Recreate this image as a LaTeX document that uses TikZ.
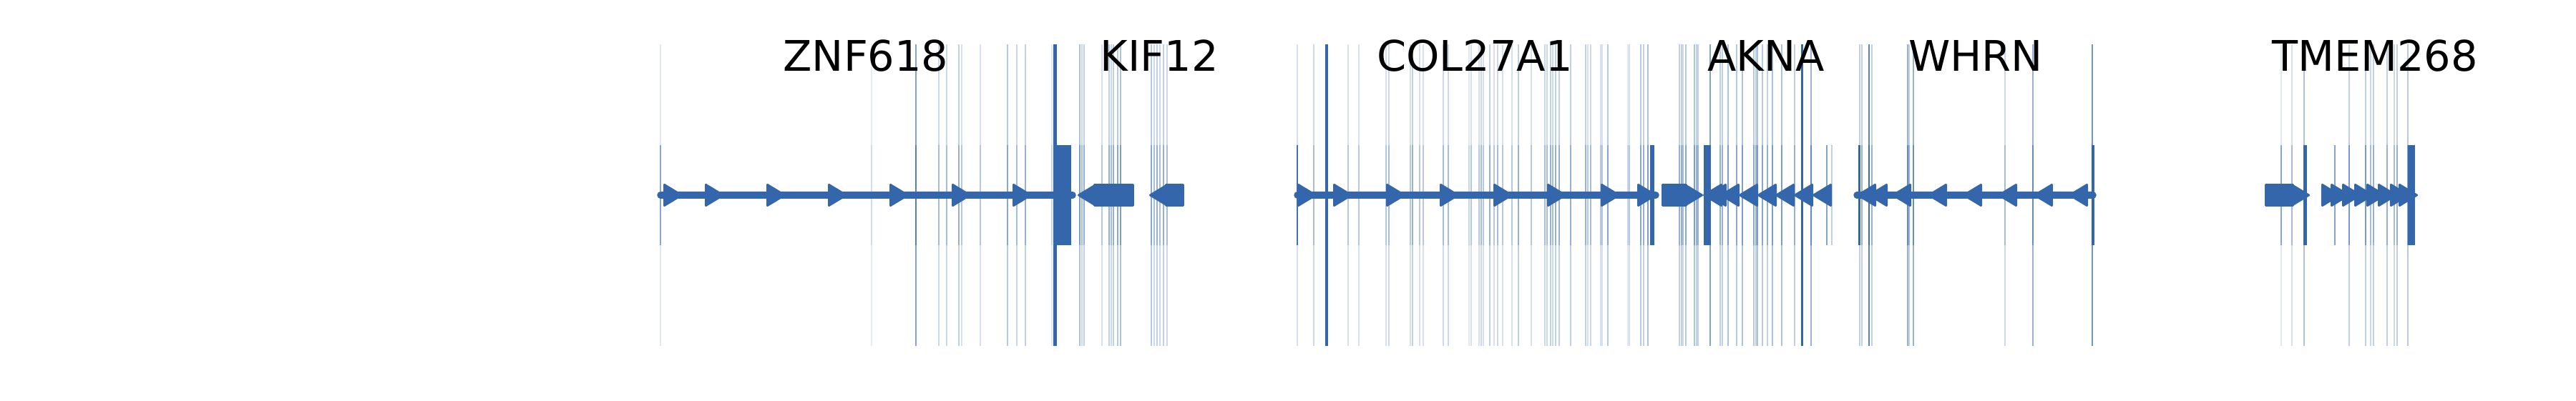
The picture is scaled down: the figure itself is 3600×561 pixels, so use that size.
\documentclass[tikz,border=0pt]{standalone}
\usepackage{fontspec}
\setmainfont{DejaVu Sans}
\definecolor{gb}{HTML}{3366AA}
\tikzset{
  gline/.style={draw=gb,line width=4.75pt,line cap=round},
  gtri/.style={fill=gb,draw=gb,line width=1.5pt,line join=round},
  vl/.style={draw=gb,line width=0.6pt},
  lab/.style={anchor=base,inner sep=0pt,font=\fontsize{29.5}{30}\selectfont,text=black}
}
\newcommand\rtri[1]{\filldraw[gtri] (#1+1.5,258.5) -- (#1+1.5,287.5) -- (#1+25.5,273) -- cycle;}
\newcommand\ltri[1]{\filldraw[gtri] (#1-1.5,258.5) -- (#1-1.5,287.5) -- (#1-25.5,273) -- cycle;}
\newcommand\gblock[2]{\filldraw[gtri] (#1+1.5,258.5) rectangle (#2-1.5,287.5);}
\begin{document}
\begin{tikzpicture}[x=0.5pt,y=-0.5pt]
\useasboundingbox (0,0) rectangle (3600,561);
% gene structures
% ZNF618
\draw[gline] (923,273) -- (1499,273);
\foreach \t in {927,985,1071,1157,1243,1330,1415} {\rtri{\t}}
% KIF12
\ltri{1533}
\gblock{1528}{1585}
\foreach \t in {1543,1553,1563,1573} {\ltri{\t}}
\ltri{1633}
\gblock{1628}{1655}
% COL27A1
\draw[gline] (1813,273) -- (2314,273);
\foreach \t in {1813,1863,1937,2012,2087,2162,2237,2288} {\rtri{\t}}
% AKNA
\gblock{2322}{2358}
\foreach \t in {2330,2340,2353} {\rtri{\t}}
\foreach \t in {2407,2413,2431,2457,2483,2508,2534,2560} {\ltri{\t}}
% WHRN
\draw[gline] (2595,273) -- (2925,273);
\foreach \t in {2622,2638,2671,2721,2770,2819,2869,2918} {\ltri{\t}}
% TMEM268
\gblock{3165}{3206}
\rtri{3201}
\foreach \t in {3244,3257,3273,3290,3307,3323,3340,3352} {\rtri{\t}}
% vertical marks: x / full-height opacity / band opacity
\foreach \x/\a/\b in {
 923/0.15/0.5, 1218/0.12/0.12, 1280/0.6/0.6, 1312/0.25/0.25, 1323/0.25/0.25,
 1340/0.3/0.3, 1344/0.2/0.2, 1370/0.2/0.2, 1408/0.35/0.35, 1421/0.25/0.25,
 1433/0.3/0.3, 1470/0.15/0.15, 1509/0.4/0.4, 1512/0.25/0.25, 1515/0.3/0.3,
 1540/0.2/0.2, 1550/0.3/0.3, 1553/0.25/0.25, 1556/0.3/0.3, 1562/0.35/0.35,
 1566/0.4/0.4, 1609/0.35/0.35, 1613/0.25/0.25, 1617/0.3/0.3, 1621/0.25/0.25,
 1626/0.3/0.3, 1631/0.25/0.25,
 1813/0.2/0.9, 1836/0.25/0.25, 1884/0.2/0.2, 1899/0.2/0.2, 1937/0.2/0.2,
 1941/0.25/0.25, 1971/0.2/0.2, 1974/0.3/0.3, 1984/0.2/0.2, 1989/0.2/0.2,
 2017/0.25/0.25, 2024/0.25/0.25, 2053/0.15/0.15, 2056/0.2/0.2, 2067/0.2/0.2,
 2070/0.25/0.25, 2073/0.2/0.2, 2082/0.3/0.3, 2088/0.2/0.2, 2093/0.25/0.25,
 2100/0.2/0.2, 2113/0.2/0.2, 2122/0.3/0.3, 2140/0.2/0.2, 2159/0.25/0.25,
 2162/0.25/0.25, 2167/0.3/0.3, 2170/0.25/0.25, 2174/0.3/0.3, 2179/0.3/0.3,
 2195/0.3/0.3, 2216/0.3/0.3, 2219/0.2/0.2, 2223/0.25/0.25, 2237/0.2/0.2,
 2239/0.2/0.2, 2247/0.35/0.35, 2275/0.15/0.15, 2277/0.2/0.2, 2293/0.35/0.35,
 2297/0.3/0.3, 2303/0.4/0.4, 2347/0.3/0.3, 2350/0.3/0.3, 2352/0.25/0.25,
 2356/0.35/0.35, 2368/0.4/0.4, 2371/0.3/0.3, 2373/0.3/0.3, 2390/0.6/0.6,
 2404/0.3/0.3, 2407/0.3/0.3, 2415/0.4/0.4, 2427/0.35/0.35, 2435/0.4/0.4,
 2451/0.35/0.35, 2454/0.3/0.3, 2456/0.4/0.4, 2463/0.35/0.35, 2470/0.3/0.3,
 2477/0.4/0.4, 2490/0.4/0.4, 2508/0.3/0.3, 2531/0.5/0.5, 2553/0/0.6,
 2560/0/0.3, 2599/0.3/0.3, 2602/0.3/0.3, 2612/0.8/0.8, 2616/0.3/0.3,
 2666/0.5/0.5, 2668/0.3/0.3, 2674/0.5/0.5, 2802/0.25/0.25, 2841/0.5/0.5,
 2924/0.7/0.7, 3188/0.15/0.5, 3203/0.2/0.3, 3220/0.4/0.4, 3263/0/0.6,
 3283/0.3/0.5, 3306/0.3/0.5, 3313/0.25/0.25, 3317/0.3/0.3, 3336/0.3/0.3,
 3346/0.25/0.25, 3350/0.3/0.3, 3365/0.35/0.35}
 {\draw[vl,opacity=\a] (\x,62) -- (\x,484);
  \draw[vl,opacity=\b] (\x,203) -- (\x,343);}
% thick bars
\fill[gb] (1472,62) rectangle (1477,484);
\fill[gb] (1477,203) rectangle (1497,343);
\fill[gb] (1852,62) rectangle (1856,484);
\fill[gb] (2306,203) rectangle (2312,343);
\fill[gb] (2381,203) rectangle (2391,343);
\fill[gb] (2517,62) rectangle (2520,484);
\fill[gb] (2597,203) rectangle (2600,343);
\fill[gb] (2923,203) rectangle (2927,343);
\fill[gb] (3219,203) rectangle (3224,343);
\fill[gb] (3365,203) rectangle (3375,343);
% labels
\node[lab] (znf) at (1210,100) {ZNF618};
\node[lab] (kif) at (1620,100) {KIF12};
\node[lab] (col) at (2061,100) {COL27A1};
\node[lab] (akna) at (2468,100) {AKNA};
\node[lab] (whrn) at (2761,100) {WHRN};
\node[lab] (tmem) at (3319,100) {TMEM268};
\end{tikzpicture}
\end{document}
